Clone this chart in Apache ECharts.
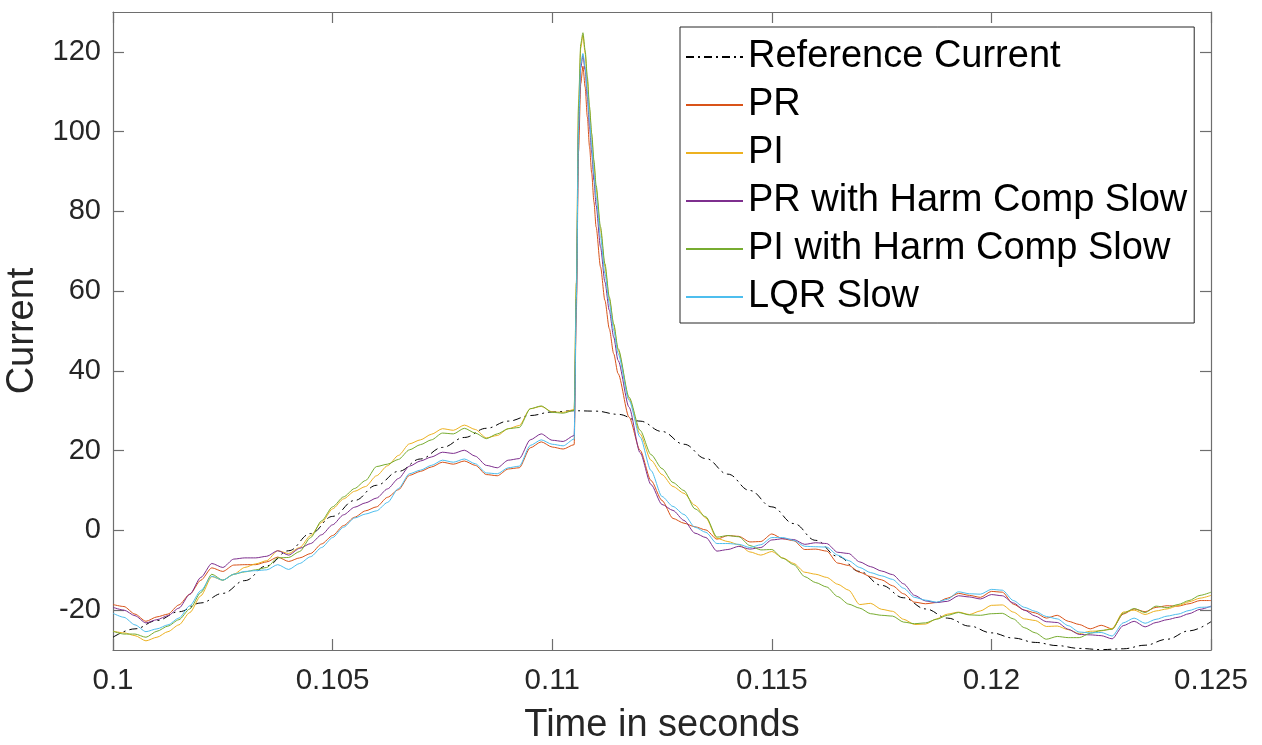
<!DOCTYPE html>
<html>
<head>
<meta charset="utf-8">
<script src="https://cdn.jsdelivr.net/npm/echarts@6/dist/echarts.min.js"></script>
<style>
  html, body { margin: 0; padding: 0; background: #ffffff; }
  #chart { width: 1262px; height: 745px; }
</style>
</head>
<body>
<div id="chart"></div>
<script>
// Reference current (sinusoidal set-point), sampled every 0.5 ms
const refTime = [
  0.1, 0.1005, 0.101, 0.1015, 0.102, 0.1025, 0.103, 0.1035, 0.104, 0.1045,
  0.105, 0.1055, 0.106, 0.1065, 0.107, 0.1075, 0.108, 0.1085, 0.109, 0.1095,
  0.11, 0.1105, 0.111, 0.1115, 0.112, 0.1125, 0.113, 0.1135, 0.114, 0.1145,
  0.115, 0.1155, 0.116, 0.1165, 0.117, 0.1175, 0.118, 0.1185, 0.119, 0.1195,
  0.12, 0.1205, 0.121, 0.1215, 0.122, 0.1225, 0.123, 0.1235, 0.124, 0.1245, 0.125
];
const refCurrent = [
  -26.8, -24.7, -22.6, -20.4, -18.2, -15.8, -12.6, -8.9, -5.1, -0.8,
  3.5, 7.5, 11.3, 14.8, 17.9, 20.8, 23.3, 25.6, 27.4, 28.8,
  29.7, 30.0, 29.9, 29.1, 27.4, 24.8, 21.6, 18.0, 14.1, 10.0,
  5.9, 1.7, -2.5, -6.5, -10.3, -13.8, -16.9, -19.7, -22.0, -24.0,
  -25.7, -27.0, -28.1, -28.9, -29.6, -29.9, -29.7, -28.8, -27.3, -25.2, -22.9
];

// Simulation time base for the controller responses (denser around the step at 0.1105 s)
const simTime = [
  0.1, 0.10025, 0.1005, 0.10075, 0.101, 0.10125, 0.1015, 0.10175, 0.102, 0.10225,
  0.1025, 0.10275, 0.103, 0.10325, 0.1035, 0.10375, 0.104, 0.10425, 0.1045, 0.10475,
  0.105, 0.10525, 0.1055, 0.10575, 0.106, 0.10625, 0.1065, 0.10675, 0.107, 0.10725,
  0.1075, 0.10775, 0.108, 0.10825, 0.1085, 0.10875, 0.109, 0.10925, 0.1095, 0.10975,
  0.11, 0.11025, 0.1105,
  0.11055, 0.1106, 0.11065, 0.1107, 0.11075, 0.1108, 0.11085, 0.1109, 0.11095, 0.111,
  0.1111, 0.1112, 0.1113, 0.1114, 0.1115, 0.11175, 0.112, 0.11225, 0.1125,
  0.11275, 0.113, 0.11325, 0.1135, 0.11375, 0.114, 0.11425, 0.1145, 0.11475, 0.115,
  0.11525, 0.1155, 0.11575, 0.116, 0.11625, 0.1165, 0.11675, 0.117, 0.11725, 0.1175,
  0.11775, 0.118, 0.11825, 0.1185, 0.11875, 0.119, 0.11925, 0.1195, 0.11975, 0.12,
  0.12025, 0.1205, 0.12075, 0.121, 0.12125, 0.1215, 0.12175, 0.122, 0.12225, 0.1225,
  0.12275, 0.123, 0.12325, 0.1235, 0.12375, 0.124, 0.12425, 0.1245, 0.12475, 0.125
];

const prCurrent = [
  -18.6, -19.1, -21.0, -22.8, -21.7, -21.0, -18.7, -16.0, -12.5, -9.4,
  -10.3, -8.7, -8.6, -8.6, -7.9, -6.7, -7.8, -6.9, -5.8, -3.4,
  -1.3, 1.2, 3.3, 4.9, 5.9, 8.3, 10.2, 13.8, 14.8, 15.9,
  17.1, 16.6, 17.4, 16.3, 14.0, 13.7, 15.4, 15.7, 20.7, 22.2,
  20.9, 20.4, 21.5,
  55, 95, 112, 116.4, 111.2, 103.7, 96.2, 89.5, 82.4, 76.1,
  66.1, 57.7, 50.6, 44.3, 39.3, 28.4, 20.1, 12.5, 7.5,
  3.0, 1.8, 0.9, 0.1, -2.2, -1.3, -1.5, -2.9, -2.8, -0.9,
  -2.1, -2.6, -4.8, -4.7, -5.2, -8.2, -8.8, -10.5, -11.6, -12.4,
  -13.9, -15.9, -18.0, -18.4, -18.1, -17.0, -15.8, -16.3, -16.8, -15.3,
  -15.5, -18.5, -20.0, -20.7, -22.0, -21.3, -22.8, -23.6, -24.7, -23.8,
  -24.7, -21.0, -19.7, -20.4, -19.3, -18.9, -19.0, -18.4, -17.6, -17.6
];

const piCurrent = [
  -25.3, -25.7, -26.4, -27.7, -26.8, -25.4, -23.7, -20.6, -16.4, -11.6,
  -12.5, -11.0, -9.3, -8.4, -7.6, -5.1, -5.8, -4.3, -1.3, 2.0,
  5.4, 7.9, 9.8, 11.0, 13.7, 16.2, 18.8, 21.7, 22.7, 24.1,
  25.5, 25.1, 26.4, 25.3, 23.2, 23.8, 25.5, 26.3, 30.5, 31.1,
  29.7, 29.6, 30.3,
  62, 106, 121, 124.2, 119.6, 112.9, 105.4, 98.7, 92.0, 85.7,
  75.3, 66.1, 58.1, 51.4, 45.2, 33.0, 24.2, 17.6, 14.0,
  11.0, 9.3, 6.3, 3.1, -2.0, -2.8, -3.6, -5.4, -6.2, -5.3,
  -6.9, -8.3, -10.5, -11.0, -11.8, -13.5, -15.0, -18.6, -18.3, -19.8,
  -20.3, -22.3, -23.6, -23.5, -22.2, -21.0, -20.5, -21.1, -20.2, -18.8,
  -18.7, -20.5, -22.2, -22.6, -24.1, -24.0, -24.9, -25.9, -25.3, -25.2,
  -24.6, -20.5, -20.0, -21.1, -20.2, -19.7, -18.9, -17.9, -17.0, -16.3
];

const prHarmCurrent = [
  -19.3, -20.0, -21.4, -23.2, -22.4, -21.4, -19.5, -16.0, -11.8, -8.3,
  -9.3, -7.2, -6.9, -6.9, -6.5, -5.1, -6.2, -4.5, -3.3, -1.1,
  1.4, 3.9, 5.8, 6.9, 8.1, 10.4, 13.0, 16.1, 17.4, 18.4,
  19.6, 19.3, 20.1, 18.6, 16.3, 15.7, 17.6, 18.0, 22.7, 24.2,
  22.6, 22.3, 23.8,
  58, 100, 116, 119.1, 115.4, 108.7, 101.2, 94.5, 87.8, 81.5,
  71.1, 62.3, 55.2, 48.5, 42.6, 30.9, 19.5, 11.5, 6.5,
  5.0, 2.5, -0.7, -1.8, -5.2, -4.8, -4.0, -4.7, -4.3, -2.4,
  -2.1, -2.3, -3.5, -3.1, -3.3, -5.5, -5.8, -7.9, -9.1, -10.2,
  -11.1, -13.4, -16.3, -17.7, -18.1, -17.8, -16.4, -16.7, -17.2, -16.1,
  -16.4, -18.2, -20.0, -21.5, -22.9, -23.1, -24.8, -26.1, -26.2, -26.4,
  -27.2, -23.9, -22.8, -24.2, -23.1, -22.4, -21.8, -20.9, -19.8, -19.0
];

const piHarmCurrent = [
  -25.3, -26.0, -26.0, -26.8, -25.3, -24.0, -22.4, -19.7, -15.6, -11.0,
  -12.5, -11.0, -10.4, -9.9, -9.3, -6.9, -6.8, -5.3, -1.8, 2.4,
  5.9, 8.4, 10.5, 12.5, 16.0, 16.6, 17.8, 20.2, 21.5, 22.7,
  24.4, 24.2, 25.6, 24.4, 23.0, 24.2, 25.5, 25.8, 30.5, 31.2,
  29.6, 29.4, 30.1,
  62, 107, 122, 124.8, 120.4, 113.7, 106.2, 99.5, 92.8, 86.5,
  76.1, 66.9, 58.5, 51.8, 45.6, 33.4, 25.1, 19.0, 15.5,
  12.0, 10.0, 5.4, 3.4, -1.7, -1.3, -1.6, -3.8, -4.9, -4.8,
  -7.0, -8.6, -11.6, -13.1, -14.2, -16.6, -18.5, -19.5, -20.9, -21.3,
  -21.5, -23.0, -23.4, -23.2, -22.3, -21.3, -20.6, -21.2, -21.3, -20.9,
  -20.8, -22.2, -24.4, -25.7, -27.3, -26.6, -26.9, -26.9, -25.8, -25.1,
  -24.8, -20.8, -19.6, -20.6, -19.0, -19.4, -18.6, -17.6, -16.3, -15.5
];

const lqrCurrent = [
  -20.8, -21.8, -23.7, -25.4, -24.7, -23.7, -22.0, -18.9, -15.1, -11.5,
  -12.5, -11.0, -10.3, -10.1, -9.9, -8.6, -9.8, -8.3, -6.6, -4.3,
  -1.8, 0.8, 3.1, 4.1, 4.9, 7.0, 10.5, 14.2, 15.1, 16.3,
  17.6, 17.1, 17.9, 16.7, 14.4, 14.2, 15.7, 16.1, 21.3, 22.7,
  21.6, 21.2, 22.9,
  58, 101, 117, 119.6, 116.2, 110.0, 102.8, 96.2, 89.5, 83.6,
  73.6, 64.4, 56.9, 50.2, 44.3, 32.6, 23.4, 15.0, 8.5,
  6.0, 4.0, 0.8, -0.5, -3.3, -3.3, -3.5, -4.3, -3.6, -1.8,
  -1.8, -2.5, -4.0, -4.1, -4.2, -6.2, -7.6, -9.3, -10.6, -11.4,
  -12.3, -14.5, -16.8, -17.5, -18.0, -17.3, -15.4, -15.9, -16.0, -14.8,
  -15.0, -17.6, -19.3, -20.3, -21.6, -22.2, -23.9, -25.5, -25.7, -25.6,
  -26.5, -23.2, -22.0, -23.3, -22.3, -21.5, -21.0, -20.1, -19.3, -19.2
];

const yTicks = [-20, 0, 20, 40, 60, 80, 100, 120];

const FONT = '"Liberation Sans", Arial, Helvetica, sans-serif';
const AXIS_COLOR = '#6e6e6e';
const TEXT_COLOR = '#262626';

function pairs(ts, vs) {
  return ts.map((t, i) => [t, vs[i]]);
}

function lineSeries(name, color, ts, vs, extra) {
  return Object.assign({
    name: name,
    type: 'line',
    data: pairs(ts, vs),
    symbol: 'none',
    smooth: 0.25,
    smoothMonotone: 'x',
    animation: false,
    lineStyle: { color: color, width: 1 },
    itemStyle: { color: color },
    z: 3
  }, extra || {});
}

const chart = echarts.init(document.getElementById('chart'), null, { renderer: 'canvas' });

const tickFmt = v => String(parseFloat(Number(v).toFixed(4)));

chart.setOption({
  animation: false,
  backgroundColor: '#ffffff',
  grid: { left: 113, top: 12, right: 51, bottom: 95, containLabel: false, outerBoundsMode: 'none' },
  legend: {
    orient: 'vertical',
    left: 680,
    top: 27,
    padding: [11, 7, 7, 5],
    itemGap: 10,
    itemWidth: 57,
    itemHeight: 14,
    backgroundColor: '#ffffff',
    borderColor: '#262626',
    borderWidth: 1,
    borderRadius: 0,
    itemStyle: { opacity: 0 },
    textStyle: { fontFamily: FONT, fontSize: 38, color: '#000000' },
    data: ['Reference Current', 'PR', 'PI', 'PR with Harm Comp Slow', 'PI with Harm Comp Slow', 'LQR Slow']
  },
  xAxis: [
    {
      type: 'value',
      min: 0.1,
      max: 0.125,
      interval: 0.005,
      name: 'Time in seconds',
      nameLocation: 'middle',
      nameGap: 57,
      nameTextStyle: { fontFamily: FONT, fontSize: 38, color: TEXT_COLOR },
      axisLine: { show: true, onZero: false, lineStyle: { color: AXIS_COLOR, width: 1.2 } },
      axisTick: { show: true, inside: true, length: 11, lineStyle: { color: AXIS_COLOR, width: 1.2 } },
      axisLabel: {
        show: true, margin: 16, fontFamily: FONT, fontSize: 29.5, color: TEXT_COLOR,
        formatter: tickFmt, showMinLabel: true, showMaxLabel: true
      },
      splitLine: { show: false }
    },
    {
      type: 'value',
      position: 'top',
      min: 0.1,
      max: 0.125,
      interval: 0.005,
      axisLine: { show: true, onZero: false, lineStyle: { color: AXIS_COLOR, width: 1.2 } },
      axisTick: { show: true, inside: true, length: 11, lineStyle: { color: AXIS_COLOR, width: 1.2 } },
      axisLabel: { show: false },
      splitLine: { show: false }
    }
  ],
  yAxis: [
    {
      type: 'value',
      min: -30,
      max: 130,
      name: 'Current',
      nameLocation: 'middle',
      nameGap: 68,
      nameTextStyle: { fontFamily: FONT, fontSize: 38, color: TEXT_COLOR },
      axisLine: { show: true, onZero: false, lineStyle: { color: AXIS_COLOR, width: 1.2 } },
      axisTick: { show: true, inside: true, length: 11, customValues: yTicks, lineStyle: { color: AXIS_COLOR, width: 1.2 } },
      axisLabel: { show: true, margin: 12, fontFamily: FONT, fontSize: 29, color: TEXT_COLOR, customValues: yTicks },
      splitLine: { show: false }
    },
    {
      type: 'value',
      position: 'right',
      min: -30,
      max: 130,
      axisLine: { show: true, onZero: false, lineStyle: { color: AXIS_COLOR, width: 1.2 } },
      axisTick: { show: true, inside: true, length: 11, customValues: yTicks, lineStyle: { color: AXIS_COLOR, width: 1.2 } },
      axisLabel: { show: false },
      splitLine: { show: false }
    }
  ],
  series: [
    lineSeries('Reference Current', '#000000', refTime, refCurrent, {
      smooth: 0.4,
      lineStyle: { color: '#000000', width: 1, type: [8, 4, 2, 4] },
      z: 2
    }),
    lineSeries('PR', '#D95319', simTime, prCurrent),
    lineSeries('PI', '#EDB120', simTime, piCurrent),
    lineSeries('PR with Harm Comp Slow', '#7E2F8E', simTime, prHarmCurrent),
    lineSeries('PI with Harm Comp Slow', '#77AC30', simTime, piHarmCurrent),
    lineSeries('LQR Slow', '#4DBEEE', simTime, lqrCurrent)
  ]
});
</script>
</body>
</html>
